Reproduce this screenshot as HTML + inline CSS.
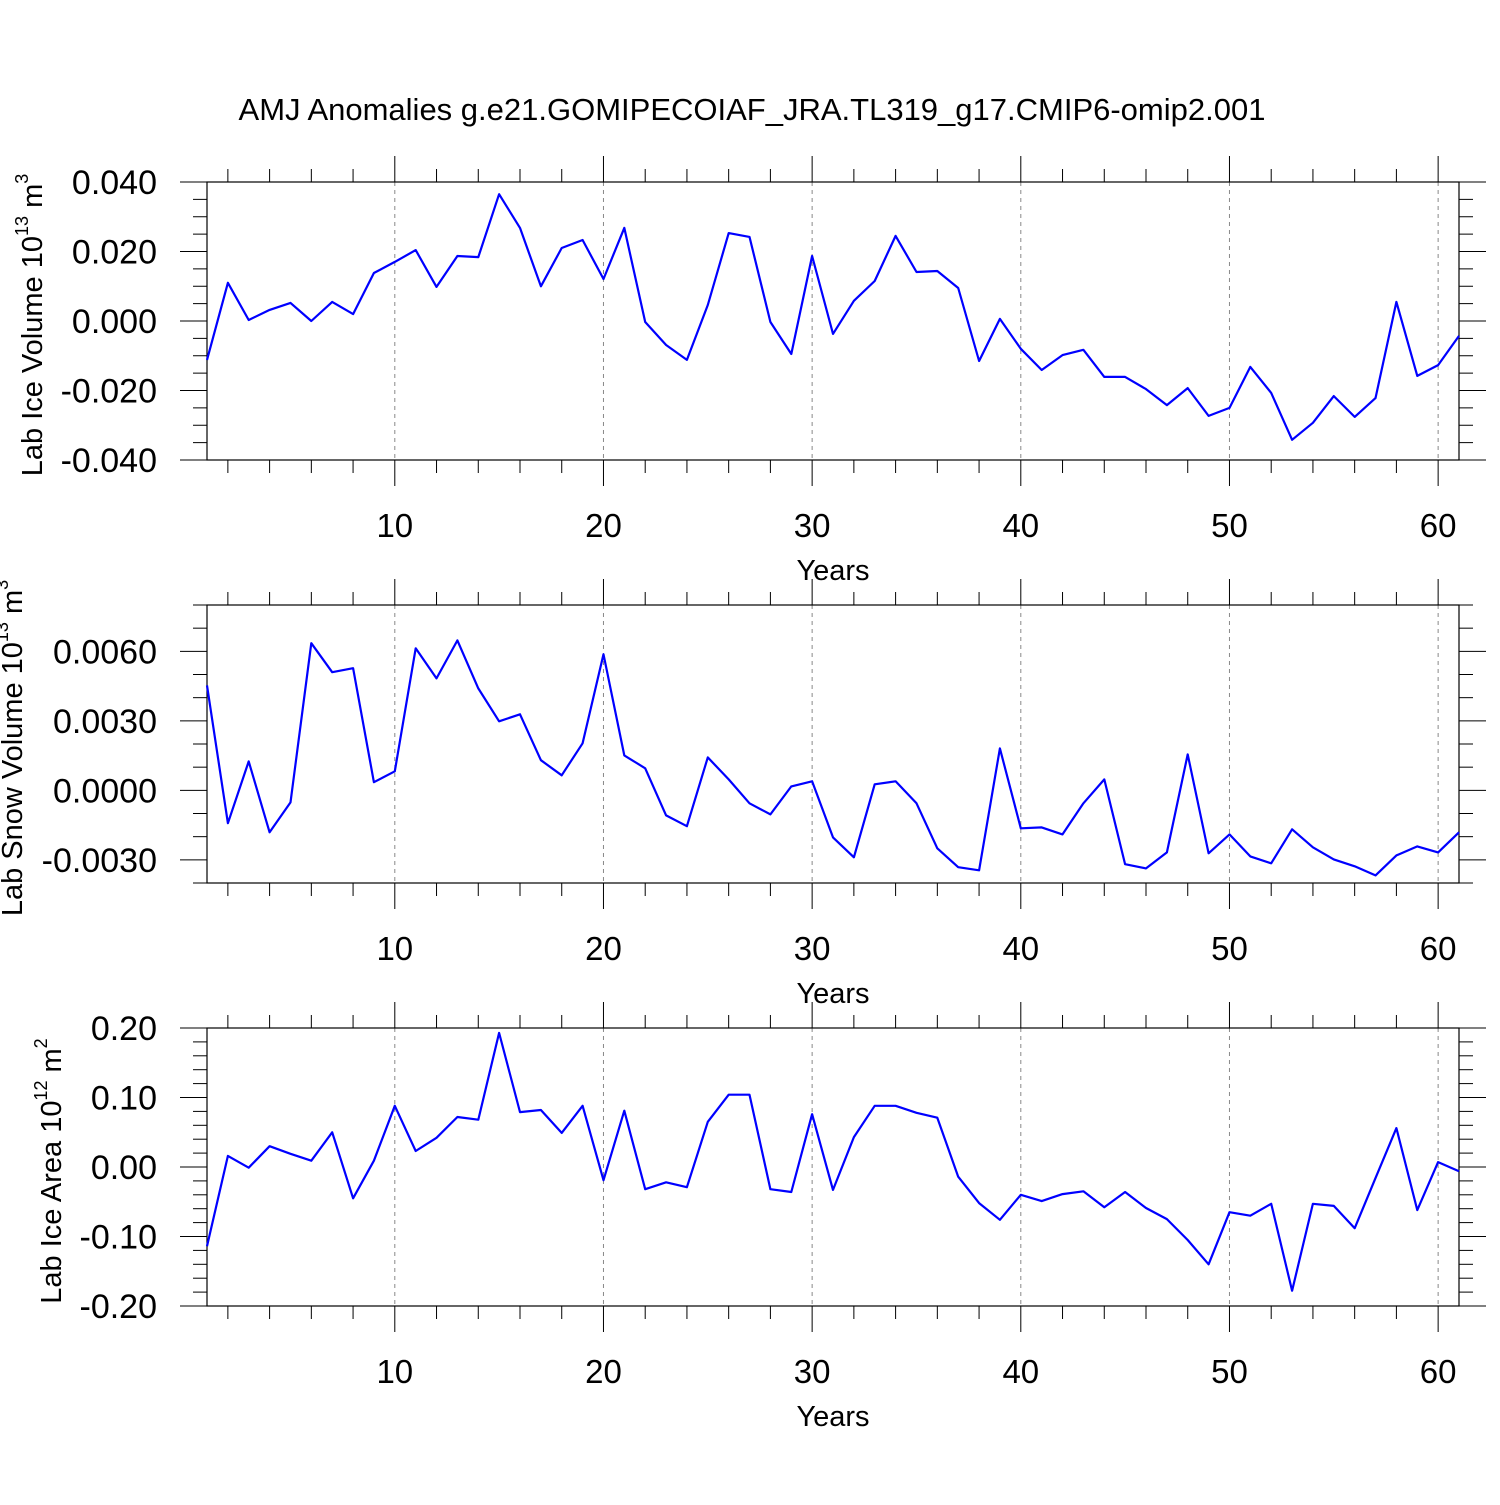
<!DOCTYPE html>
<html><head><meta charset="utf-8"><style>
body{margin:0;background:#fff}
svg text{font-family:"Liberation Sans",sans-serif;fill:#000}
</style></head><body>
<svg id="chart" width="1500" height="1500" viewBox="0 0 1500 1500" xmlns="http://www.w3.org/2000/svg">
<text x="752" y="120" font-size="31" text-anchor="middle">AMJ Anomalies g.e21.GOMIPECOIAF_JRA.TL319_g17.CMIP6-omip2.001</text>
</svg>
<script>
const years = Array.from({length:61},(_,i)=>i+1);
const iceVolume = [-0.0112,0.011,0.0003,0.0032,0.0052,0,0.0055,0.002,0.0138,0.017,0.0204,0.0098,0.0187,0.0184,0.0365,0.0268,0.010,0.021,0.0233,0.0121,0.0268,-0.0003,-0.0069,-0.0112,0.0046,0.0253,0.0242,-0.0003,-0.0095,0.0187,-0.0037,0.0058,0.0115,0.0245,0.0141,0.0144,0.0095,-0.0115,0.0006,-0.008,-0.0141,-0.0098,-0.0083,-0.0161,-0.0161,-0.0196,-0.0242,-0.0193,-0.0273,-0.025,-0.0132,-0.0207,-0.0342,-0.0293,-0.0216,-0.0276,-0.0222,0.0055,-0.0158,-0.0127,-0.0043];
const snowVolume = [0.00453,-0.00142,0.00125,-0.00181,-0.00052,0.00635,0.0051,0.00527,0.00035,0.00082,0.00613,0.00483,0.00647,0.0044,0.00298,0.00328,0.0013,0.00065,0.00203,0.00587,0.00151,0.00095,-0.00108,-0.00155,0.00142,0.00047,-0.00056,-0.00104,0.00017,0.00039,-0.00203,-0.00289,0.00026,0.00039,-0.00056,-0.0025,-0.00332,-0.00345,0.00181,-0.00164,-0.0016,-0.0019,-0.00056,0.00047,-0.00319,-0.00337,-0.00268,0.00155,-0.00272,-0.0019,-0.00285,-0.00315,-0.00168,-0.00246,-0.00298,-0.00328,-0.00367,-0.00281,-0.00242,-0.00268,-0.00181];
const iceArea = [-0.114,0.016,-0.001,0.030,0.019,0.009,0.050,-0.045,0.009,0.088,0.023,0.042,0.072,0.068,0.193,0.079,0.082,0.049,0.088,-0.019,0.081,-0.032,-0.022,-0.029,0.065,0.104,0.104,-0.032,-0.036,0.076,-0.033,0.043,0.088,0.088,0.078,0.071,-0.014,-0.052,-0.076,-0.040,-0.049,-0.039,-0.035,-0.058,-0.036,-0.059,-0.075,-0.105,-0.140,-0.065,-0.070,-0.053,-0.178,-0.053,-0.056,-0.088,-0.016,0.056,-0.062,0.007,-0.006];
const xTicks = [10,20,30,40,50,60];
const ticks1 = [-0.04,-0.02,0,0.02,0.04];
const labels1 = ["-0.040","-0.020","0.000","0.020","0.040"];
const ticks2 = [-0.003,0,0.003,0.006];
const labels2 = ["-0.0030","0.0000","0.0030","0.0060"];
const ticks3 = [-0.2,-0.1,0,0.1,0.2];
const labels3 = ["-0.20","-0.10","0.00","0.10","0.20"];

const svg = document.getElementById('chart');
const NS = 'http://www.w3.org/2000/svg';
function mk(tag, attrs, parent){const e=document.createElementNS(NS,tag);for(const k in attrs)e.setAttribute(k,attrs[k]);(parent||svg).appendChild(e);return e;}
const X0=207, X1=1459;
const xs = v => X0 + (v-1)*(X1-X0)/60;

function panel(name, top, ymin, ymax, minorStep, values, ticks, labels, ylab, sup, unit, unitSup, labX){
  const bot = top+278;
  const ys = v => bot - (v-ymin)*(bot-top)/(ymax-ymin);
  const g = mk('g',{});
  
  
  xTicks.forEach(t=>{const l=mk('line',{x1:xs(t),x2:xs(t),y1:top,y2:bot,stroke:'#888','stroke-width':1,'stroke-dasharray':'4,4'},g);
    
    });
  const f=mk('rect',{x:X0,y:top,width:X1-X0,height:bot-top,fill:'none',stroke:'#000','stroke-width':1.2},g);
  
  
  for(let v=2; v<=61; v+=2){
    const maj = v%10===0; const len = maj?26:13;
    mk('line',{x1:xs(v),x2:xs(v),y1:top,y2:top-len,stroke:'#000','stroke-width':1},g);
    mk('line',{x1:xs(v),x2:xs(v),y1:bot,y2:bot+len,stroke:'#000','stroke-width':1},g);
  }
  xTicks.forEach(t=>{const tx=mk('text',{x:xs(t),y:bot+77,'font-size':33,'text-anchor':'middle'},g);tx.textContent=t;
    
    });
  const xl=mk('text',{x:833,y:bot+120,'font-size':29,'text-anchor':'middle'},g);xl.textContent='Years';
  
  
  const n=Math.round((ymax-ymin)/minorStep);
  for(let i=0;i<=n;i++){
    const v=ymin+i*minorStep;
    const isLab=ticks.some(t=>Math.abs(t-v)<minorStep/10);
    const len=isLab?27:14;
    mk('line',{x1:X0,x2:X0-len,y1:ys(v),y2:ys(v),stroke:'#000','stroke-width':1},g);
    mk('line',{x1:X1,x2:X1+len,y1:ys(v),y2:ys(v),stroke:'#000','stroke-width':1},g);
  }
  ticks.forEach((t,i)=>{const tx=mk('text',{x:157,y:ys(t)+12,'font-size':34,'text-anchor':'end'},g);tx.textContent=labels[i];
    
    });
  const yl=mk('text',{x:0,y:0,'font-size':29,'text-anchor':'middle',transform:`translate(${labX},${(top+bot)/2+4}) rotate(-90)`},g);
  
  
  yl.innerHTML = ylab+' 10<tspan font-size="18" dy="-14">'+sup+'</tspan><tspan dy="14"> '+unit+'</tspan><tspan font-size="18" dy="-14">'+unitSup+'</tspan>';
  const pts=values.map((v,i)=>xs(years[i]).toFixed(1)+','+ys(v).toFixed(1)).join(' ');
  const pl=mk('polyline',{points:pts,fill:'none',stroke:'#0000ff','stroke-width':2.2,'stroke-linejoin':'round'},g);
  
  
}
panel('panel-ice-volume',182,-0.04,0.04,0.005,iceVolume,ticks1,labels1,'Lab Ice Volume','13','m','3',42);
panel('panel-snow-volume',605,-0.004,0.008,0.001,snowVolume,ticks2,labels2,'Lab Snow Volume','13','m','3',22);
panel('panel-ice-area',1028,-0.2,0.2,0.02,iceArea,ticks3,labels3,'Lab Ice Area','12','m','2',61);
</script>
</body></html>
